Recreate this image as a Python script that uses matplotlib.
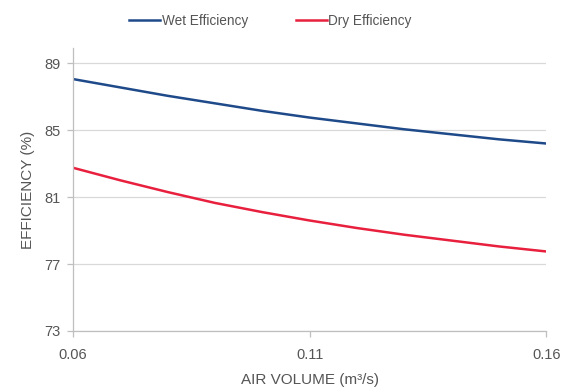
import matplotlib.pyplot as plt

plt.rcParams['font.family'] = ['Liberation Sans', 'DejaVu Sans']

air_volume = [0.06, 0.07, 0.08, 0.09, 0.10, 0.11, 0.12, 0.13, 0.14, 0.15, 0.16]
wet_efficiency = [88.05, 87.55, 87.05, 86.6, 86.15, 85.75, 85.4, 85.05, 84.75, 84.45, 84.2]
dry_efficiency = [82.75, 82.0, 81.3, 80.65, 80.1, 79.6, 79.15, 78.75, 78.4, 78.05, 77.75]

x_ticks = [0.06, 0.11, 0.16]
y_ticks = [73, 77, 81, 85, 89]

text_color = '#555555'
grid_color = '#d9d9d9'

fig = plt.figure(figsize=(5.75, 3.88), dpi=100)
ax = fig.add_axes([0.127, 0.147, 0.823, 0.729])

ax.plot(air_volume, wet_efficiency, color='#1f4a8a', linewidth=1.8, label='Wet Efficiency')
ax.plot(air_volume, dry_efficiency, color='#e8203e', linewidth=1.8, label='Dry Efficiency')

ax.set_xlim(0.06, 0.16)
ax.set_ylim(73, 89.9)
ax.set_xticks(x_ticks)
ax.set_xticklabels(['0.06', '0.11', '0.16'])
ax.set_yticks(y_ticks)
ax.yaxis.grid(True, color=grid_color, linewidth=0.9)
ax.set_axisbelow(True)

for side in ['top', 'right']:
    ax.spines[side].set_visible(False)
for side in ['left', 'bottom']:
    ax.spines[side].set_color('#bfbfbf')
    ax.spines[side].set_linewidth(0.9)

ax.tick_params(axis='both', colors='#bfbfbf', labelcolor=text_color, labelsize=10.5,
               length=4, width=0.9)
ax.tick_params(axis='x', pad=8)
ax.tick_params(axis='y', pad=5)

ax.set_xlabel('AIR VOLUME (m³/s)', color=text_color, fontsize=11, labelpad=8)
ax.set_ylabel('EFFICIENCY (%)', color=text_color, fontsize=11, labelpad=7)

leg = fig.legend(loc='upper center', bbox_to_anchor=(0.47, 0.995), ncol=2, frameon=False,
                 fontsize=9.8, handlelength=2.3, handletextpad=0.1, columnspacing=3.5)
for t in leg.get_texts():
    t.set_color(text_color)

fig.savefig('out.png', dpi=100)
